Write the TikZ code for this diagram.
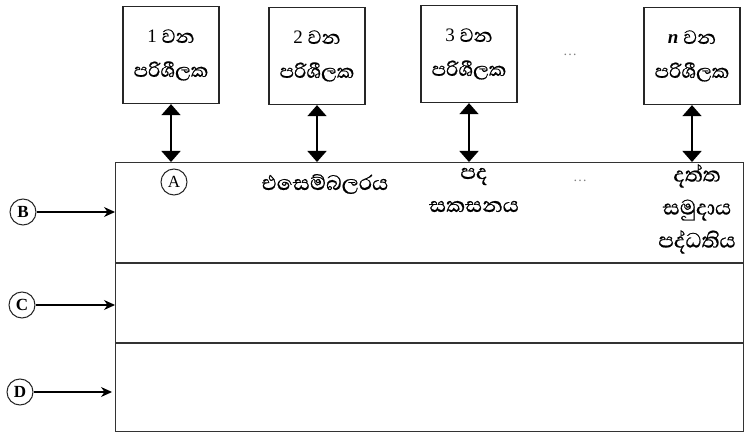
\documentclass[tikz,border=0pt]{standalone}
\usepackage{fontspec}
\setmainfont{Liberation Serif}
\newfontfamily\sinfont[Script=Sinhala,Scale=1.4,FakeBold=0.6]{Abhaya Libre}
\newfontfamily\sinbox[Script=Sinhala,Scale=1.29,FakeBold=0.6]{Abhaya Libre}
\usetikzlibrary{arrows.meta,calc}
\begin{document}
\begin{tikzpicture}[x=1pt,y=-1pt,
  userbox/.style={draw=black!85,line width=1.3pt,minimum width=96pt,minimum height=97pt,inner sep=0pt,align=center,font=\fontsize{19}{34}\selectfont},
  rowbox/.style={draw=black!80,line width=1.1pt,minimum width=628pt,inner sep=0pt},
  circ/.style={circle,draw=black!85,line width=1pt,minimum size=26pt,inner sep=0pt,font=\fontsize{17}{17}\selectfont\bfseries},
  dbl/.style={line width=1.5pt,{Triangle[width=19pt,length=11pt]}-{Triangle[width=19pt,length=11pt]}},
  inarrow/.style={line width=1.1pt,-{Stealth[width=10pt,length=11pt]}},
  lbl/.style={font=\fontsize{19}{33}\selectfont\sinfont,align=center,inner sep=0pt}]
\useasboundingbox (0,0) rectangle (755,438);
% user boxes
\node[userbox] (u1) at (171,55) {1 {\sinbox වන}\\{\sinbox පරිශීලක}};
\node[userbox] (u2) at (317,56) {2 {\sinbox වන}\\{\sinbox පරිශීලක}};
\node[userbox] (u3) at (469,54) {3 {\sinbox වන}\\{\sinbox පරිශීලක}};
\node[userbox] (un) at (692,56) {\textbf{\textit{n}} {\sinbox වන}\\{\sinbox පරිශීලක}};
\node[font=\fontsize{14}{14}\selectfont,text=black!50] (dtop) at (570,55) {\dots};
% rows
\node[rowbox,minimum height=100pt,anchor=north west] (rowB) at (115,162) {};
\node[rowbox,minimum height=79pt,anchor=north west] (rowC) at (rowB.south west) {};
\node[rowbox,minimum height=88pt,anchor=north west] (rowD) at (rowC.south west) {};
% arrows between users and memory
\draw[dbl] (u1.south) -- (u1.south |- rowB.north);
\draw[dbl] (u2.south) -- (u2.south |- rowB.north);
\draw[dbl] (u3.south) -- (u3.south |- rowB.north);
\draw[dbl] (un.south) -- (un.south |- rowB.north);
% row B contents
\node[circ,font=\fontsize{17}{17}\selectfont] (cA) at (174,182) {A};
\node[lbl] (asm) at (325,184) {එසෙම්බලරය};
\node[lbl] (wp) at (474,190) {පද\\සකසනය};
\node[font=\fontsize{14}{14}\selectfont,text=black!50] (dmid) at (580,181) {\dots};
\node[lbl] (db) at (697,209) {දත්ත\\සමුදාය\\පද්ධතිය};
% side labels
\node[circ] (cB) at (23,212) {B};
\node[circ] (cC) at (22,305) {C};
\node[circ] (cD) at (20,392) {D};
\draw[inarrow] (cB) -- (cB -| rowB.west);
\draw[inarrow] (cC) -- (cC -| rowC.west);
\draw[inarrow] (cD) -- ($(cD -| rowD.west)+(-3,0)$);
\end{tikzpicture}
\end{document}
